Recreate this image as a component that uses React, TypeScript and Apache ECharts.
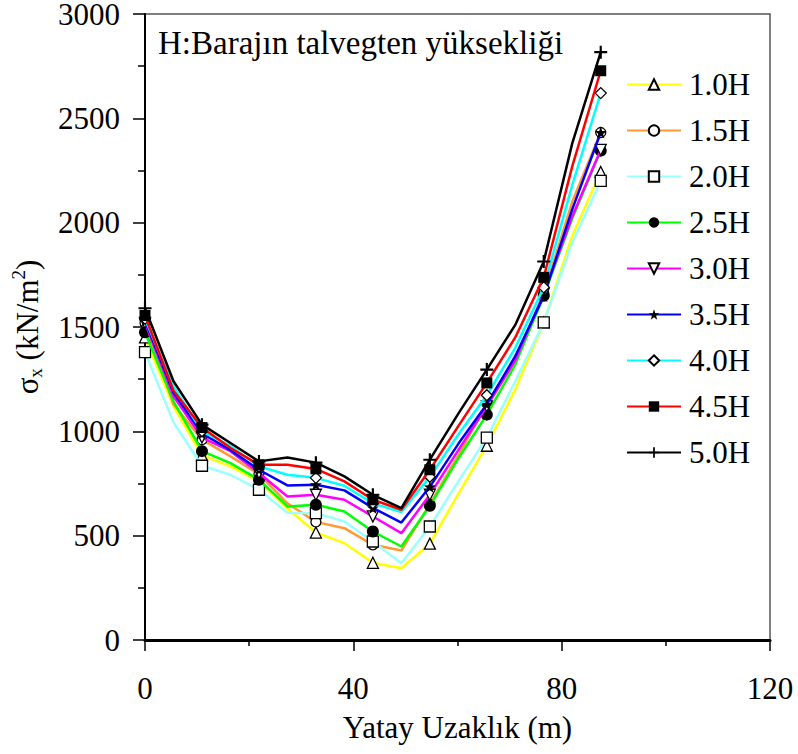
import React, { useEffect, useRef } from "react";
import * as echarts from "echarts";

// x positions (m) of the polyline vertices; markers on every second vertex
const xPositions = [0, 5.47, 10.94, 16.41, 21.88, 27.34, 32.81, 38.28, 43.75, 49.22, 54.69, 60.16, 65.63, 71.09, 76.56, 82.03, 87.5];

const seriesNames = ["1.0H", "1.5H", "2.0H", "2.5H", "3.0H", "3.5H", "4.0H", "4.5H", "5.0H"];

const s10 = [1450, 1120, 885, 832, 760, 630, 515, 464, 370, 344, 462, 700, 931, 1200, 1522, 1936, 2243];
const s15 = [1520, 1130, 960, 880, 795, 655, 566, 536, 456, 429, 650, 885, 1133, 1345, 1660, 2100, 2432];
const s20 = [1380, 1043, 835, 792, 720, 610, 608, 568, 472, 368, 544, 760, 970, 1240, 1522, 1904, 2200];
const s25 = [1475, 1144, 905, 848, 768, 640, 648, 616, 520, 448, 643, 870, 1080, 1320, 1650, 2020, 2345];
const s30 = [1520, 1168, 970, 905, 800, 688, 696, 672, 592, 512, 696, 910, 1120, 1340, 1660, 2030, 2349];
const s35 = [1530, 1185, 990, 910, 816, 741, 744, 717, 633, 563, 734, 940, 1130, 1360, 1648, 2064, 2432];
const s40 = [1540, 1215, 1000, 930, 832, 792, 777, 739, 655, 613, 782, 985, 1173, 1400, 1690, 2180, 2621];
const s45 = [1555, 1195, 1018, 920, 840, 840, 820, 760, 672, 624, 816, 1025, 1232, 1450, 1738, 2270, 2728];
const s50 = [1590, 1240, 1032, 944, 856, 875, 850, 784, 696, 632, 864, 1085, 1296, 1510, 1814, 2380, 2817];

const seriesValues = [s10, s15, s20, s25, s30, s35, s40, s45, s50];

const lineColors = ["#FFFF00", "#FF9933", "#99FFFF", "#00FF00", "#FF00FF", "#0000FF", "#00FFFF", "#FF0000", "#000000"];

const STAR = "path://M10,0 L12.35,6.76 L19.51,6.91 L13.8,11.24 L15.88,18.09 L10,14 L4.12,18.09 L6.2,11.24 L0.49,6.91 L7.65,6.76 Z";
const PLUS = "path://M5,0 H7 V5 H12 V7 H7 V12 H5 V7 H0 V5 H5 Z";
const DOWN_TRI = "path://M0,0 L10,0 L5,9 Z";

const markerSymbols = ["triangle", "circle", "rect", "circle", DOWN_TRI, STAR, "diamond", "rect", PLUS];
const markerFilled = [false, false, false, true, false, true, false, true, true];
const markerSizes = [11, 10, 11, 12, 11, 12, 11, 11, 13];

const yTicks = { min: 0, max: 3000, interval: 500 };
const xTicks = { min: 0, max: 120, interval: 40 };

const FONT = "Liberation Serif";

export default function App() {
  const ref = useRef<HTMLDivElement>(null);

  useEffect(() => {
    if (!ref.current) return;
    const chart = echarts.init(ref.current, null, { renderer: "svg" });

    const series = seriesNames.map((name, k) => ({
      name,
      type: "line",
      data: xPositions.map((x, i) =>
        i % 2 === 0 ? [x, seriesValues[k][i]] : { value: [x, seriesValues[k][i]], symbol: "none" }
      ),
      symbol: markerSymbols[k],
      symbolSize: markerSizes[k],
      showSymbol: true,
      showAllSymbol: true,
      lineStyle: { color: lineColors[k], width: 2.5 },
      itemStyle: {
        color: markerFilled[k] ? "#000" : "#fff",
        borderColor: "#000",
        borderWidth: markerFilled[k] ? 0 : 1.3,
      },
      emphasis: { disabled: true },
      z: 2 + k,
    }));

    chart.setOption({
      animation: false,
      title: {
        text: "H:Barajın talvegten yüksekliği",
        left: 153,
        top: 21,
        textStyle: { fontFamily: FONT, fontSize: 33, fontWeight: "normal", color: "#000" },
      },
      grid: {
        left: 145,
        top: 14,
        right: 28,
        bottom: 114,
        show: true,
        borderColor: "#555",
        borderWidth: 1.5,
        backgroundColor: "transparent",
        outerBoundsMode: "none",
        containLabel: false,
      },
      legend: {
        orient: "vertical",
        left: 621,
        top: 64,
        itemWidth: 54,
        itemHeight: 13,
        itemGap: 15,
        data: seriesNames,
        textStyle: { fontFamily: FONT, fontSize: 31, color: "#000", padding: [0, 0, 0, 3], lineHeight: 31 },
      },
      xAxis: {
        type: "value",
        min: xTicks.min,
        max: xTicks.max,
        interval: xTicks.interval,
        name: "Yatay Uzaklık (m)",
        nameLocation: "middle",
        nameGap: 72,
        nameTextStyle: { fontFamily: FONT, fontSize: 31, color: "#000" },
        axisLine: { show: true, lineStyle: { color: "#000", width: 3 } },
        axisTick: { show: true, length: 11, lineStyle: { color: "#000", width: 1.5 } },
        minorTick: { show: true, splitNumber: 2, length: 6, lineStyle: { color: "#000", width: 1.5 } },
        axisLabel: { fontFamily: FONT, fontSize: 31, color: "#000", margin: 33, formatter: (v: number) => String(v) },
        splitLine: { show: false },
      },
      yAxis: {
        type: "value",
        min: yTicks.min,
        max: yTicks.max,
        interval: yTicks.interval,
        name: "{a|σ}{sub|x}{a| (kN/m}{sup|2}{a|)}",
        nameLocation: "middle",
        nameGap: 100,
        nameRotate: 90,
        nameTextStyle: {
          fontFamily: FONT,
          fontSize: 31,
          color: "#000",
          rich: {
            a: { fontFamily: FONT, fontSize: 31, color: "#000", lineHeight: 36 },
            sub: { fontFamily: FONT, fontSize: 19, color: "#000", verticalAlign: "bottom", lineHeight: 36 },
            sup: { fontFamily: FONT, fontSize: 19, color: "#000", verticalAlign: "top", lineHeight: 36 },
          },
        },
        axisLine: { show: true, lineStyle: { color: "#000", width: 2 } },
        axisTick: { show: true, length: 12, lineStyle: { color: "#000", width: 1.5 } },
        minorTick: { show: true, splitNumber: 2, length: 7, lineStyle: { color: "#000", width: 1.5 } },
        axisLabel: { fontFamily: FONT, fontSize: 31, color: "#000", margin: 25, formatter: (v: number) => String(v) },
        splitLine: { show: false },
      },
      series,
    });

    return () => chart.dispose();
  }, []);

  return (
    <div
      ref={ref}
      style={{ width: 798, height: 754, position: "absolute", left: 0, top: 0, background: "#fff" }}
    />
  );
}
